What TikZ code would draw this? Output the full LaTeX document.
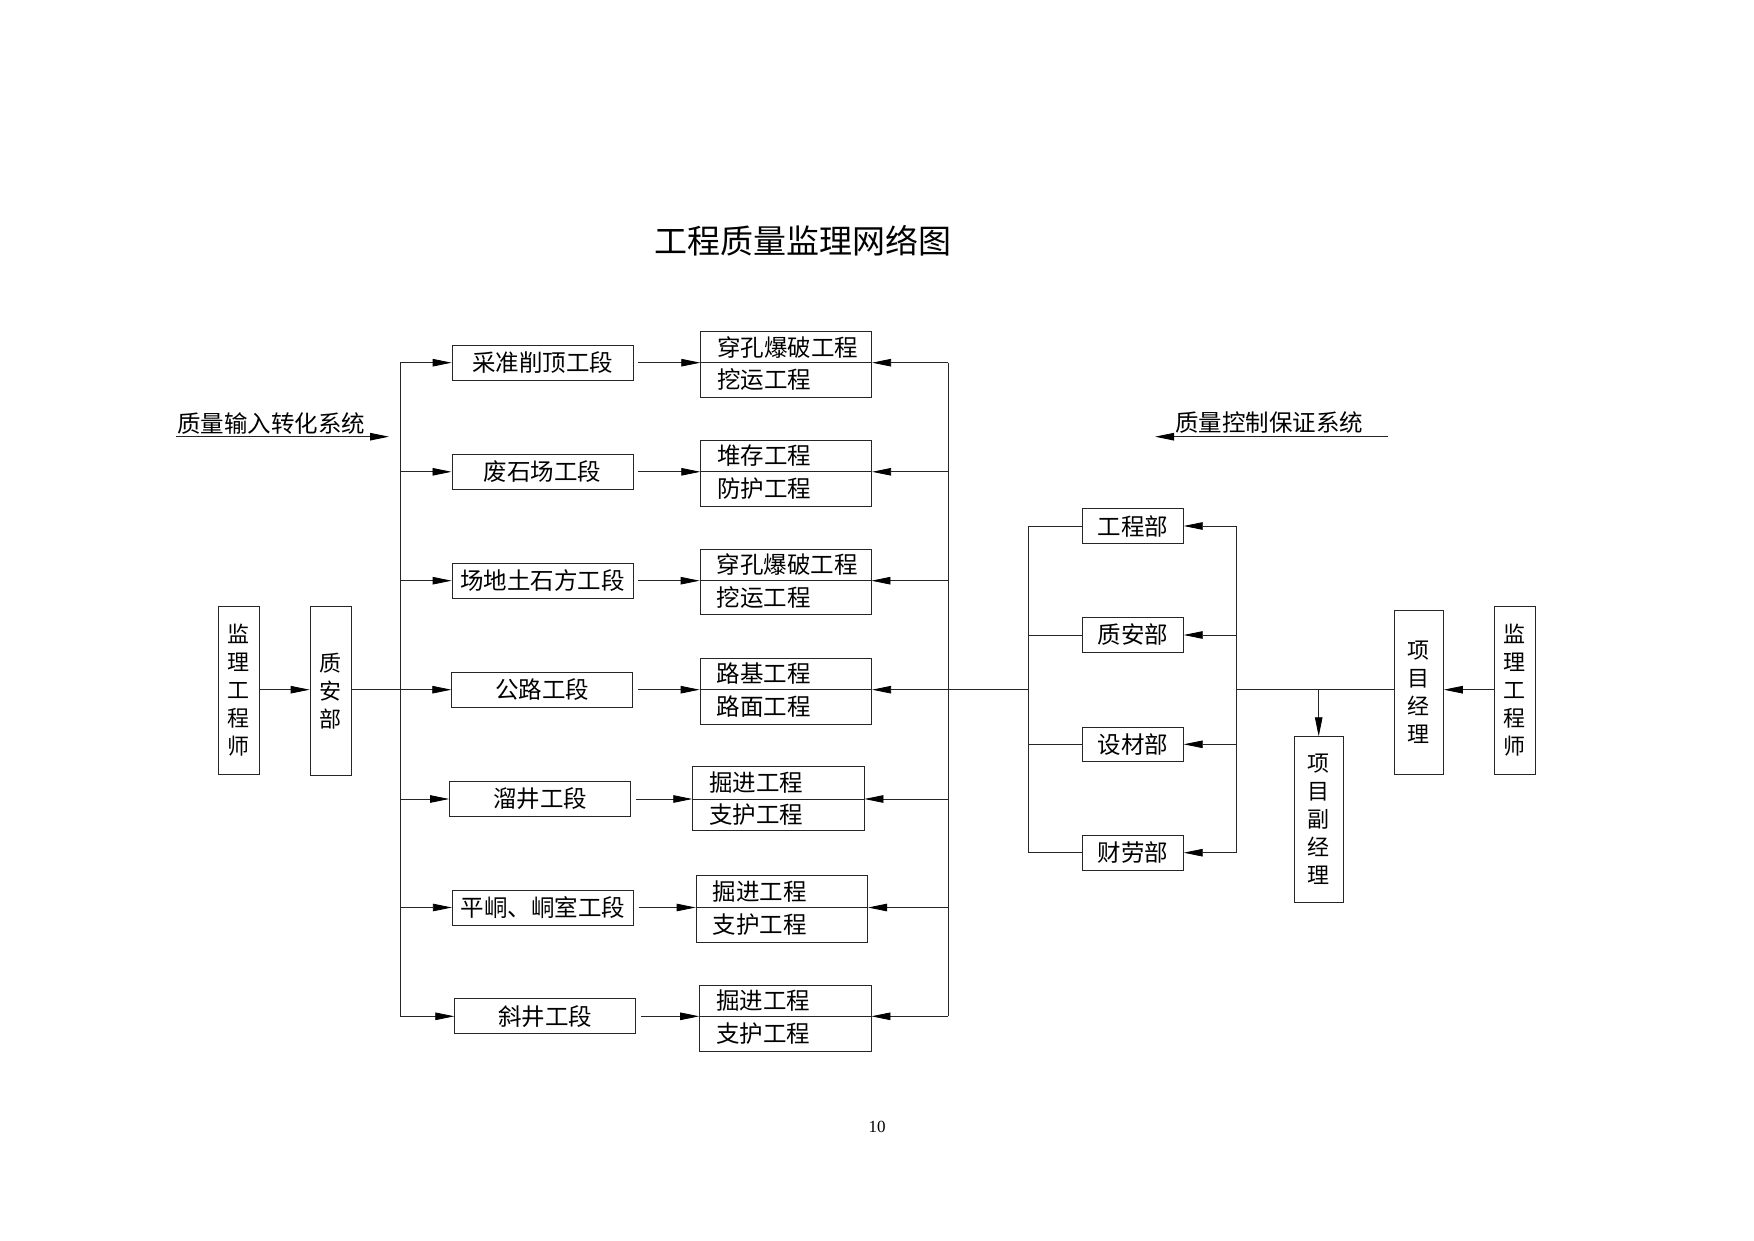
\documentclass[tikz,border=0pt]{standalone}
\usepackage{fontspec}
\setmainfont{Liberation Serif}
\newfontfamily\cjk{Noto Sans CJK SC}
\usetikzlibrary{arrows.meta}
\tikzset{
  ln/.style={draw=black!85, line width=0.8pt},
  arr/.style={ln, -{Triangle[length=19pt,width=7.5pt,black]}},
  bx/.style={draw=black!85, line width=0.8pt, inner sep=0pt, font=\cjk\fontsize{23.5}{28}\selectfont},
  txt/.style={inner sep=0pt, font=\cjk\fontsize{23.5}{28}\selectfont},
  vbx/.style={bx, align=center, font=\cjk\fontsize{22}{28}\selectfont},
}
\begin{document}
\begin{tikzpicture}[x=1pt,y=-1pt]
\fill[white] (0,0) rectangle (1754,1241);
\useasboundingbox (0,0) rectangle (1754,1241);

% title and page number
\node[txt, font=\cjk\fontsize{33}{40}\selectfont] (title) at (803,241) {工程质量监理网络图};
\node[inner sep=0pt, font=\fontsize{17}{20}\selectfont] (pg) at (877,1127) {10};

% system labels
\node[txt] (inl) at (271.3,424) {质量输入转化系统};
\coordinate (ia) at (176,436.7);
\coordinate (ib) at (389,436.7);
\draw[arr] (ia) -- (ib);
\node[txt] (outl) at (1269,423) {质量控制保证系统};
\coordinate (oa) at (1388.3,436.7);
\coordinate (ob) at (1155,436.7);
\draw[arr] (oa) -- (ob);

% rows
\foreach \i/\yy/\sc/\cx/\cy/\ww/\hh/\tx/\ya/\yb/\st/\ut/\lt in {
 1/362.7/542.5/786.2/364.5/171pt/65.6pt/717.2/347.2/380/采准削顶工段/穿孔爆破工程/挖运工程,
 2/471.8/542.4/786.2/473/171pt/66pt/717.2/455.9/488.9/废石场工段/堆存工程/防护工程,
 3/580.7/542.5/785.5/581.8/171pt/65.5pt/716.5/564.9/597.6/场地土石方工段/穿孔爆破工程/挖运工程,
 4/689.7/542.2/785.85/691.15/171.7pt/65.7pt/716.5/674/706.9/公路工段/路基工程/路面工程,
 5/799/540/778.35/798.35/171.3pt/63.3pt/709.2/782.9/814.5/溜井工段/掘进工程/支护工程,
 6/907.5/542.8/781.8/909/171.6pt/66.6pt/712.5/891.6/924.9/平峒、峒室工段/掘进工程/支护工程,
 7/1016.3/545.2/785.3/1018/171.4pt/66pt/716.1/1000.7/1033.7/斜井工段/掘进工程/支护工程}
{
  \node[bx, minimum width=181pt, minimum height=35pt] (s\i) at (\sc,\yy) {\st};
  \node[bx, minimum width=\ww, minimum height=\hh] (w\i) at (\cx,\cy) {};
  \node[txt, anchor=west] (u\i) at (\tx,\ya) {\ut};
  \node[txt, anchor=west] (v\i) at (\tx,\yb) {\lt};
  \coordinate (L\i) at (400,\yy);
  \coordinate (R\i) at (948,\yy);
}

% left vertical boxes
\node[vbx, minimum width=41pt, minimum height=168.3pt] (jl) at (238.8,690.2) {监\\理\\工\\程\\师};
\node[vbx, minimum width=41pt, minimum height=168.3pt] (za) at (330.5,690.8) {质\\安\\部};

% trunks
\draw[ln] (L1) -- (L7);
\draw[ln] (R1) -- (R7);
\foreach \i in {1,2,3,5,6,7} \draw[arr] (L\i) -- (s\i.west |- L\i);
\foreach \i in {1,...,7} {
  \draw[arr, shorten <=5pt] (s\i.east |- L\i) -- (w\i.west |- L\i);
  \draw[ln] (w\i.west |- R\i) -- (w\i.east |- R\i);
  \draw[arr] (R\i) -- (w\i.east |- R\i);
}
\draw[arr] (jl.east |- L4) -- (za.west |- L4);
\draw[arr] (za.east |- L4) -- (s4.west |- L4);

% departments
\foreach \i/\yy/\dt in {1/526/工程部, 2/635/质安部, 3/744.3/设材部, 4/852.7/财劳部} {
  \node[bx, minimum width=101pt, minimum height=34.5pt] (d\i) at (1132.8,\yy) {\dt};
  \coordinate (BL\i) at (1028.3,\yy);
  \coordinate (BR\i) at (1236,\yy);
}
\draw[ln] (BL1) -- (BL4);
\draw[ln] (BR1) -- (BR4);
\foreach \i in {1,...,4} {
  \draw[ln] (BL\i) -- (d\i.west);
  \draw[arr] (BR\i) -- (d\i.east);
}
\coordinate (M) at (1028.3,689.7);
\draw[ln] (R4) -- (M);

% right vertical boxes
\node[vbx, minimum width=49.3pt, minimum height=165.6pt] (xf) at (1318.7,819.5) {项\\目\\副\\经\\理};
\node[vbx, minimum width=49.3pt, minimum height=164.3pt] (xm) at (1418.7,692.2) {项\\目\\经\\理};
\node[vbx, minimum width=40.7pt, minimum height=168.3pt] (jr) at (1514.7,690.2) {监\\理\\工\\程\\师};

\coordinate (N) at (1236,689.7);
\coordinate (F) at (1318.7,689.7);
\draw[ln] (N) -- (xm.west |- N);
\draw[arr] (F) -- (xf.north);
\draw[arr] (jr.west |- N) -- (xm.east |- N);
\end{tikzpicture}
\end{document}
